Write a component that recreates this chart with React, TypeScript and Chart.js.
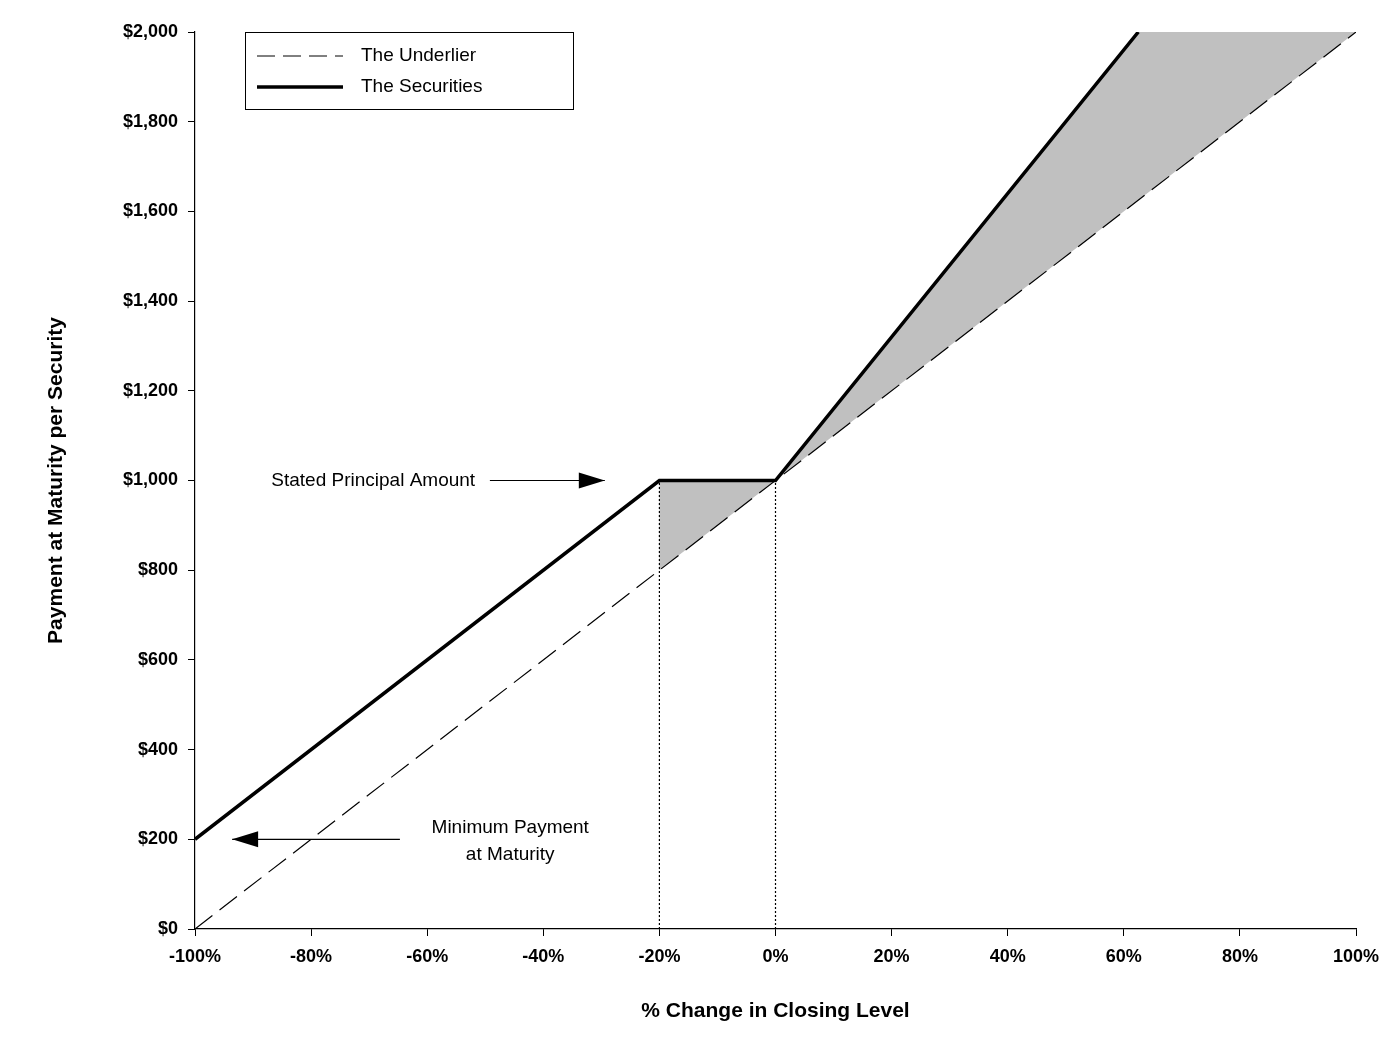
import React, { useEffect, useRef } from "react";
import { Chart, registerables } from "chart.js";
Chart.register(...registerables);

const xTicks = [-100, -80, -60, -40, -20, 0, 20, 40, 60, 80, 100];
const yTicks = [0, 200, 400, 600, 800, 1000, 1200, 1400, 1600, 1800, 2000];
const underlierX = [-100, 100];
const underlierY = [0, 2000];
const securitiesX = [-100, -20, 0, 62.5];
const securitiesY = [200, 1000, 1000, 2000];
const shadeX = [-20, 0, 62.5, 100, 0, -20];
const shadeY = [1000, 1000, 2000, 2000, 1000, 800];
const dotAX = [-20, -20];
const dotAY = [0, 1000];
const dotBX = [0, 0];
const dotBY = [0, 1000];

const pts = (xs: number[], ys: number[]) => xs.map((x, i) => ({ x, y: ys[i] }));
const FONT = "'Liberation Sans', Arial, sans-serif";

const annot = {
  id: "annot",
  afterDraw(chart: any) {
    const c = chart.ctx;
    const xs = chart.scales.x, ys = chart.scales.y;
    const X = (v: number) => xs.getPixelForValue(v);
    const Y = (v: number) => ys.getPixelForValue(v);
    c.save();
    c.fillStyle = "#000";
    c.strokeStyle = "#000";
    c.font = `19px ${FONT}`;
    c.textAlign = "center";
    c.textBaseline = "middle";
    c.fillText("Stated Principal Amount", X(-69.3), Y(1000));
    c.fillText("Minimum Payment", X(-45.7), Y(225));
    c.fillText("at Maturity", X(-45.7), Y(165));
    const arrow = (x1: number, x2: number, y: number) => {
      c.lineWidth = 1.2;
      c.beginPath(); c.moveTo(x1, y); c.lineTo(x2, y); c.stroke();
      const d = x2 > x1 ? 1 : -1;
      c.beginPath();
      c.moveTo(x2, y);
      c.lineTo(x2 - d * 26, y - 8);
      c.lineTo(x2 - d * 26, y + 8);
      c.closePath(); c.fill();
    };
    arrow(X(-49.2), X(-29.4), Y(1000));
    arrow(X(-64.7), X(-93.6), Y(200));
    const L = chart.chartArea.left + 50, T = chart.chartArea.top;
    c.lineWidth = 1;
    c.strokeRect(L + 0.5, T + 0.5, 328, 77);
    c.textAlign = "left";
    c.setLineDash([18, 8]);
    c.beginPath(); c.moveTo(L + 12, T + 24); c.lineTo(L + 98, T + 24); c.stroke();
    c.setLineDash([]);
    c.lineWidth = 3.5;
    c.beginPath(); c.moveTo(L + 12, T + 55); c.lineTo(L + 98, T + 55); c.stroke();
    c.fillText("The Underlier", L + 116, T + 24);
    c.fillText("The Securities", L + 116, T + 55);
    c.restore();
  },
};

export default function App() {
  const ref = useRef<HTMLCanvasElement>(null);
  useEffect(() => {
    const chart = new Chart(ref.current!, {
      type: "scatter",
      data: {
        datasets: [
          { data: pts(shadeX, shadeY), order: 10, showLine: true, fill: "shape" as any, backgroundColor: "#c0c0c0", borderWidth: 0, pointRadius: 0 },
          { data: pts(dotAX, dotAY), order: 5, showLine: true, borderColor: "#000", borderWidth: 1.2, borderDash: [2, 2], pointRadius: 0 },
          { data: pts(dotBX, dotBY), order: 5, showLine: true, borderColor: "#000", borderWidth: 1.2, borderDash: [2, 2], pointRadius: 0 },
          { data: pts(underlierX, underlierY), order: 2, showLine: true, borderColor: "#000", borderWidth: 1.2, borderDash: [22, 9], pointRadius: 0 },
          { data: pts(securitiesX, securitiesY), order: 1, showLine: true, borderColor: "#000", borderWidth: 3.5, pointRadius: 0 },
        ],
      },
      options: {
        animation: false,
        responsive: false,
        layout: { padding: { top: 32, right: 36, left: 40, bottom: 10 } },
        plugins: { legend: { display: false }, tooltip: { enabled: false } },
        scales: {
          x: {
            type: "linear", min: -100, max: 100,
            afterBuildTicks: (s: any) => { s.ticks = xTicks.map((v) => ({ value: v })); },
            afterFit: (s: any) => { s.height = 99; },
            ticks: { color: "#000", font: { family: FONT, size: 18, weight: "bold" }, callback: (v: any) => v + "%", padding: 10, maxRotation: 0 },
            grid: { display: true, drawOnChartArea: false, drawTicks: true, tickLength: 7, color: "#000" } as any,
            border: { color: "#000", width: 1.2 },
            title: { display: true, text: "% Change in Closing Level", color: "#000", font: { family: FONT, size: 21, weight: "bold" }, padding: { top: 12 } },
          },
          y: {
            type: "linear", min: 0, max: 2000,
            afterBuildTicks: (s: any) => { s.ticks = yTicks.map((v) => ({ value: v })); },
            afterFit: (s: any) => { s.width = 155; },
            ticks: { color: "#000", font: { family: FONT, size: 18, weight: "bold" }, callback: (v: any) => "$" + Number(v).toLocaleString("en-US"), padding: 10 },
            grid: { display: true, drawOnChartArea: false, tickLength: 7, color: "#000" } as any,
            border: { color: "#000", width: 1.2 },
            title: { display: true, text: "Payment at Maturity per Security", color: "#000", font: { family: FONT, size: 21, weight: "bold" }, padding: { bottom: 14 } },
          },
        },
      },
      plugins: [annot],
    });
    return () => chart.destroy();
  }, []);
  return (
    <div style={{ position: "absolute", left: 0, top: 0, background: "#fff" }}>
      <canvas ref={ref} width={1392} height={1038} style={{ width: 1392, height: 1038 }} />
    </div>
  );
}
